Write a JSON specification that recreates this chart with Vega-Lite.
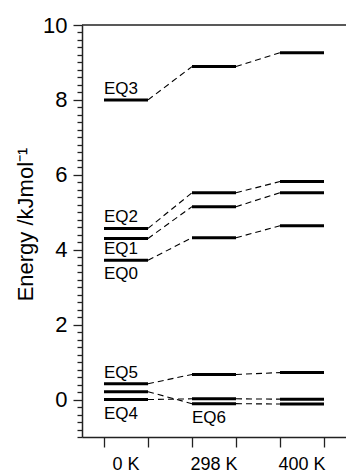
{
  "$schema": "https://vega.github.io/schema/vega-lite/v6.json",
  "width": 264,
  "height": 412,
  "autosize": "none",
  "padding": {"left": 82, "top": 25, "right": 0, "bottom": 35},
  "config": {"view": {"stroke": null}, "axis": {"grid": false}},
  "datasets": {
    "levels": [
      {"state": "EQ3", "temp": "0 K", "e": 8.0},
      {"state": "EQ2", "temp": "0 K", "e": 4.57},
      {"state": "EQ1", "temp": "0 K", "e": 4.30},
      {"state": "EQ0", "temp": "0 K", "e": 3.72},
      {"state": "EQ5", "temp": "0 K", "e": 0.42},
      {"state": "EQ6", "temp": "0 K", "e": 0.21},
      {"state": "EQ4", "temp": "0 K", "e": 0.0},
      {"state": "EQ3", "temp": "298 K", "e": 8.89},
      {"state": "EQ2", "temp": "298 K", "e": 5.52},
      {"state": "EQ1", "temp": "298 K", "e": 5.15},
      {"state": "EQ0", "temp": "298 K", "e": 4.32},
      {"state": "EQ5", "temp": "298 K", "e": 0.67},
      {"state": "EQ6", "temp": "298 K", "e": -0.11},
      {"state": "EQ4", "temp": "298 K", "e": 0.02},
      {"state": "EQ3", "temp": "400 K", "e": 9.26},
      {"state": "EQ2", "temp": "400 K", "e": 5.82},
      {"state": "EQ1", "temp": "400 K", "e": 5.52},
      {"state": "EQ0", "temp": "400 K", "e": 4.64},
      {"state": "EQ5", "temp": "400 K", "e": 0.72},
      {"state": "EQ6", "temp": "400 K", "e": -0.12},
      {"state": "EQ4", "temp": "400 K", "e": 0.01}
    ],
    "links": [
      {"state": "EQ3", "from": "0 K", "to": "298 K", "e0": 8.0, "e1": 8.89},
      {"state": "EQ2", "from": "0 K", "to": "298 K", "e0": 4.57, "e1": 5.52},
      {"state": "EQ1", "from": "0 K", "to": "298 K", "e0": 4.30, "e1": 5.15},
      {"state": "EQ0", "from": "0 K", "to": "298 K", "e0": 3.72, "e1": 4.32},
      {"state": "EQ5", "from": "0 K", "to": "298 K", "e0": 0.42, "e1": 0.67},
      {"state": "EQ6", "from": "0 K", "to": "298 K", "e0": 0.21, "e1": -0.11},
      {"state": "EQ4", "from": "0 K", "to": "298 K", "e0": 0.0, "e1": 0.02},
      {"state": "EQ3", "from": "298 K", "to": "400 K", "e0": 8.89, "e1": 9.26},
      {"state": "EQ2", "from": "298 K", "to": "400 K", "e0": 5.52, "e1": 5.82},
      {"state": "EQ1", "from": "298 K", "to": "400 K", "e0": 5.15, "e1": 5.52},
      {"state": "EQ0", "from": "298 K", "to": "400 K", "e0": 4.32, "e1": 4.64},
      {"state": "EQ5", "from": "298 K", "to": "400 K", "e0": 0.67, "e1": 0.72},
      {"state": "EQ6", "from": "298 K", "to": "400 K", "e0": -0.11, "e1": -0.12},
      {"state": "EQ4", "from": "298 K", "to": "400 K", "e0": 0.02, "e1": 0.01}
    ],
    "labels": [
      {"label": "EQ3", "temp": "0 K", "e": 8.0, "side": "above"},
      {"label": "EQ2", "temp": "0 K", "e": 4.57, "side": "above"},
      {"label": "EQ1", "temp": "0 K", "e": 3.72, "side": "above"},
      {"label": "EQ0", "temp": "0 K", "e": 3.72, "side": "below"},
      {"label": "EQ5", "temp": "0 K", "e": 0.42, "side": "above"},
      {"label": "EQ4", "temp": "0 K", "e": 0.0, "side": "below"},
      {"label": "EQ6", "temp": "298 K", "e": -0.11, "side": "below"}
    ]
  },
  "layer": [
    {
      "data": {"name": "levels"},
      "mark": {"type": "rule", "strokeWidth": 3, "color": "black"},
      "encoding": {
        "x": {
          "field": "temp", "type": "nominal", "bandPosition": 0,
          "scale": {"type": "band", "domain": ["0 K", "298 K", "400 K"], "paddingInner": 0.5, "paddingOuter": 0.25},
          "axis": {
            "orient": "bottom", "title": null, "bandPosition": 0, "labelAngle": 0,
            "tickSize": 10, "tickWidth": 1.3, "tickColor": "#222",
            "domainColor": "#222", "domainWidth": 1.5,
            "labelOffset": 0, "labelPadding": 8, "labelFont": "Liberation Sans",
            "labelFontSize": 18, "labelColor": "black"
          }
        },
        "x2": {"field": "temp", "bandPosition": 1},
        "y": {
          "field": "e", "type": "quantitative",
          "scale": {"domain": [-1, 10], "nice": false, "zero": false},
          "axis": {
            "orient": "left",
            "values": [0, 2, 4, 6, 8, 10],
            "tickSize": 9, "tickWidth": 1.3, "tickColor": "#222",
            "domainColor": "#222", "domainWidth": 1.5,
            "format": "d",
            "labelFont": "Liberation Sans", "labelFontSize": 22,
            "labelPadding": 6, "labelColor": "black",
            "title": "Energy /kJmol⁻¹", "titleFont": "Liberation Sans", "titleFontSize": 22,
            "titleFontWeight": "normal", "titleColor": "black",
            "titleAngle": 270, "titleBaseline": "alphabetic", "titleAlign": "center",
            "titleX": -50, "titleY": 199
          }
        }
      }
    },
    {
      "data": {"name": "links"},
      "mark": {"type": "rule", "strokeWidth": 1.1, "strokeDash": [6, 4], "color": "black"},
      "encoding": {
        "x": {
          "field": "from", "type": "nominal", "bandPosition": 1,
          "axis": {
            "orient": "bottom", "title": null, "bandPosition": 1, "labels": false,
            "domain": false, "tickSize": 10, "tickWidth": 1.3, "tickColor": "#222"
          }
        },
        "x2": {"field": "to", "bandPosition": 0},
        "y": {"field": "e0", "type": "quantitative", "axis": null},
        "y2": {"field": "e1"}
      }
    },
    {
      "data": {"name": "labels"},
      "transform": [{"filter": "datum.side == 'above'"}],
      "mark": {"type": "text", "align": "left", "baseline": "alphabetic", "dy": -6, "font": "Liberation Sans", "fontSize": 17, "color": "black"},
      "encoding": {
        "x": {"field": "temp", "type": "nominal", "bandPosition": 0, "axis": null},
        "y": {"field": "e", "type": "quantitative", "axis": null},
        "text": {"field": "label"}
      }
    },
    {
      "data": {"name": "labels"},
      "transform": [{"filter": "datum.side == 'below'"}],
      "mark": {"type": "text", "align": "left", "baseline": "alphabetic", "dy": 19, "font": "Liberation Sans", "fontSize": 17, "color": "black"},
      "encoding": {
        "x": {"field": "temp", "type": "nominal", "bandPosition": 0, "axis": null},
        "y": {"field": "e", "type": "quantitative", "axis": null},
        "text": {"field": "label"}
      }
    },
    {
      "data": {"values": [{"top": 10}]},
      "mark": {"type": "rule", "color": "#222", "strokeWidth": 1.5},
      "encoding": {
        "y": {
          "field": "top", "type": "quantitative",
          "axis": {
            "orient": "left", "title": null, "labels": false, "domain": false,
            "values": [-1, -0.8, -0.6, -0.4, -0.2, 0.2, 0.4, 0.6, 0.8, 1, 1.2, 1.4, 1.6, 1.8, 2.2, 2.4, 2.6, 2.8, 3, 3.2, 3.4, 3.6, 3.8, 4.2, 4.4, 4.6, 4.8, 5, 5.2, 5.4, 5.6, 5.8, 6.2, 6.4, 6.6, 6.8, 7, 7.2, 7.4, 7.6, 7.8, 8.2, 8.4, 8.6, 8.8, 9, 9.2, 9.4, 9.6, 9.8],
            "tickSize": 5, "tickWidth": 1.3, "tickColor": "#222"
          }
        }
      }
    }
  ],
  "resolve": {"axis": {"x": "independent", "y": "independent"}}
}
